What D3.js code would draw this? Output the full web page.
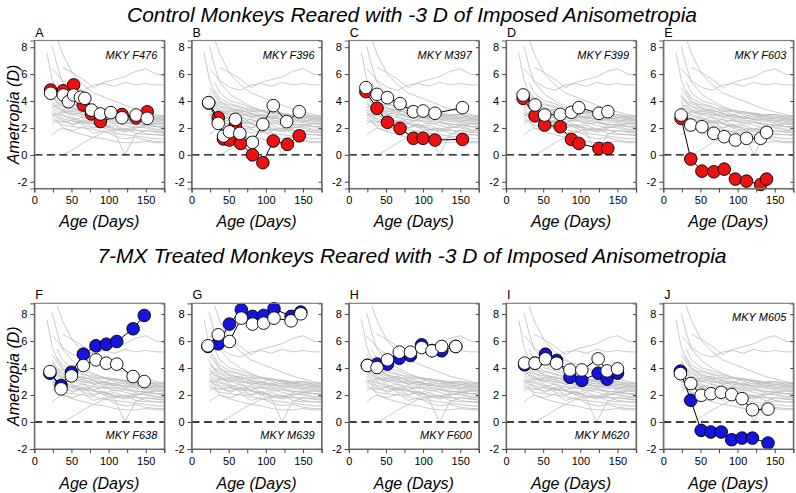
<!DOCTYPE html>
<html><head><meta charset="utf-8">
<script src="https://cdn.jsdelivr.net/npm/d3@7"></script>
<style>
body{margin:0;background:#fff}
svg{display:block}
text{font-family:"Liberation Sans",Arial,sans-serif}
</style>
</head><body>
<svg id="c" width="796" height="493"></svg>
<script>
// ---------------- DATA ----------------
const rowTitles = ["Control Monkeys Reared with -3 D of Imposed Anisometropia",
                   "7-MX Treated Monkeys Reared with -3 D of Imposed Anisometropia"];
const panelLetters = ["A","B","C","D","E","F","G","H","I","J"];
const monkeyNames = ["MKY F476","MKY F396","MKY M397","MKY F399","MKY F603",
                     "MKY F638","MKY M639","MKY F600","MKY M620","MKY M605"];
const yTicks = [-2, 0, 2, 4, 6, 8];
const xTicks = [0, 25, 50, 75, 100, 125, 150, 175];
const xTickLabels = [0, 50, 100, 150];

// treated (filled) eye: ages and refractions, one list per panel
const treatedAges = [
  [22, 39, 53, 66, 77, 89, 118, 137, 152],
  [23, 36, 43, 51, 59, 66, 82, 96, 110, 129, 145],
  [23, 38, 52, 69, 87, 100, 116, 153],
  [23, 39, 52, 73, 88, 98, 125, 137],
  [24, 37, 52, 68, 82, 97, 112, 131, 139],
  [21, 36, 50, 66, 83, 97, 111, 133, 148],
  [22, 36, 51, 67, 82, 97, 111, 134, 147],
  [25, 38, 52, 68, 83, 98, 112, 125, 144],
  [25, 39, 53, 68, 86, 102, 124, 136, 150],
  [23, 37, 51, 64, 78, 92, 106, 120, 141]
];
const treatedValues = [
  [4.82, 4.77, 5.2, 3.7, 3.04, 2.47, 3.0, 2.75, 3.2],
  [3.85, 2.76, 1.18, 1.1, 2.22, 0.85, 0.0, -0.58, 1.03, 0.78, 1.42],
  [4.7, 3.46, 2.42, 1.97, 1.23, 1.23, 1.1, 1.15],
  [4.2, 2.91, 2.22, 2.09, 1.15, 0.85, 0.48, 0.48],
  [2.71, -0.31, -1.21, -1.26, -1.06, -1.8, -1.95, -2.2, -1.8],
  [3.62, 2.7, 3.69, 5.03, 5.65, 5.77, 5.97, 6.91, 7.9],
  [5.6, 5.8, 7.26, 8.32, 7.83, 7.9, 8.4, 7.83, 8.15],
  [4.2, 4.29, 4.29, 4.73, 4.93, 5.72, 5.3, 5.28, 5.6],
  [4.24, 4.36, 5.03, 4.56, 3.32, 3.08, 3.62, 3.18, 3.62],
  [3.77, 1.61, -0.62, -0.74, -0.74, -1.31, -1.19, -1.19, -1.56]
];
// fellow (open) eye
const fellowAges = [
  [22, 39, 46, 53, 62, 68, 77, 89, 103, 118, 137, 152],
  [23, 36, 43, 51, 59, 65, 82, 96, 110, 128, 145],
  [23, 38, 52, 69, 87, 100, 116, 153],
  [23, 39, 52, 73, 88, 98, 125, 137],
  [24, 37, 52, 68, 82, 97, 112, 131, 139],
  [21, 36, 50, 66, 83, 97, 111, 133, 148],
  [22, 36, 51, 67, 82, 97, 111, 134, 147],
  [25, 38, 52, 68, 83, 98, 112, 125, 144],
  [25, 39, 53, 68, 86, 102, 124, 136, 150],
  [23, 37, 51, 64, 78, 92, 106, 120, 141]
];
const fellowValues = [
  [4.58, 4.45, 3.95, 4.45, 4.28, 4.2, 3.33, 3.04, 3.14, 2.76, 2.96, 2.72],
  [3.88, 2.34, 1.4, 1.72, 2.64, 1.6, 0.93, 2.27, 3.66, 2.47, 3.21],
  [5.0, 4.5, 4.25, 3.81, 3.21, 3.26, 3.09, 3.51],
  [4.45, 3.71, 2.96, 3.01, 3.16, 3.51, 3.09, 3.21],
  [2.96, 2.22, 2.09, 1.6, 1.35, 1.1, 1.23, 1.23, 1.67],
  [3.74, 2.46, 3.42, 4.19, 4.61, 4.36, 4.29, 3.37, 3.0],
  [5.65, 6.47, 5.97, 7.7, 7.26, 7.33, 7.7, 7.5, 8.02],
  [4.19, 4.04, 4.61, 5.18, 5.18, 5.52, 5.28, 5.6, 5.6],
  [4.36, 4.36, 4.68, 4.36, 3.86, 3.86, 4.68, 3.79, 3.94],
  [3.59, 2.85, 1.98, 2.1, 2.2, 2.03, 1.73, 0.91, 0.96]
];

// normal monkeys (gray background lines), same in every panel
const normAges = [17, 24, 31, 38, 52, 66, 80, 94, 108, 122, 136, 150, 164, 178];
const normValues = [
  [7.6, 5.6, 4.6, 4.0, 3.5, 3.3, 3.1, 2.9, 2.8, 2.6, 2.5, 2.4, 2.3, 2.2],
  [null, 8.1, 6.6, 5.4, 4.5, 4.0, 3.6, 3.3, 3.2, 3.0, 2.9, 2.8, 2.7, 2.6],
  [null, null, 8.6, 7.5, 6.0, 5.2, 4.6, 4.3, 4.0, 3.7, 3.4, 3.2, 3.0, 2.8],
  [null, null, null, 6.5, 6.1, 5.6, 5.0, 5.4, 5.6, 5.8, 6.2, 6.4, 6.0, 5.9],
  [null, 6.4, 6.0, 5.5, 5.0, 4.8, 5.2, 5.3, 5.1, 5.4, 5.2, 5.3, 5.2, 5.2],
  [null, null, null, 0.0, 0.4, 0.9, 1.3, 1.7, 1.9, 1.8, 2.0, 2.2, 2.3, 2.4],
  [null, 3.6, 3.2, 3.0, 2.7, 2.5, 2.3, 2.0, 1.7, 0.0, 1.5, 1.8, 1.7, 1.6],
  [null, 1.5, 1.8, 2.0, 1.7, 1.5, 1.3, 1.2, 1.0, 0.9, 0.9, 1.0, 0.9, 0.9],
  [null, 3.8, 3.5, 3.3, 3.0, 2.8, 2.6, 2.5, 2.5, 2.4, 2.3, 2.2, 2.1, 2.1],
  [null, 4.2, 3.9, 3.6, 3.4, 3.1, 2.9, 2.8, 2.7, 2.7, 2.6, 2.5, 2.4, 2.3],
  [null, 3.0, 2.8, 2.7, 2.5, 2.4, 2.3, 2.2, 2.0, 1.9, 1.8, 1.8, 1.7, 1.7],
  [null, 2.6, 2.4, 2.2, 2.1, 2.0, 1.9, 1.7, 1.6, 1.5, 1.4, 1.3, 1.2, 1.2],
  [null, 5.0, 4.4, 3.9, 3.7, 3.5, 3.4, 3.2, 3.1, 3.0, 2.9, 2.9, 2.8, 2.8],
  [null, 4.6, 3.8, 3.4, 3.1, 3.0, 2.8, 2.6, 2.6, 2.5, 2.3, 2.2, 2.1, 2.0],
  [null, 2.9, 3.1, 2.6, 2.2, 2.5, 2.0, 2.2, 1.8, 2.0, 1.6, 1.5, 1.5, 1.4],
  [null, 3.4, 3.0, 2.9, 2.6, 2.8, 2.4, 2.6, 2.3, 2.4, 2.2, 2.3, 2.1, 2.1],
  [null, null, 4.8, 4.2, 3.8, 3.6, 3.2, 3.3, 3.0, 2.8, 2.9, 2.6, 2.5, 2.4],
  [null, 3.2, 2.9, 3.3, 2.8, 2.3, 2.7, 2.1, 2.4, 2.2, 2.0, 2.1, 1.9, 1.9],
  [null, 4.0, 3.4, 3.1, 3.3, 2.9, 3.1, 2.7, 2.9, 2.6, 2.8, 2.5, 2.6, 2.5],
  [null, 2.3, 2.6, 2.0, 1.8, 2.1, 1.6, 1.8, 1.4, 1.2, 1.3, 1.1, 1.0, 1.0],
  [null, 3.5, 3.7, 3.2, 3.0, 3.2, 2.8, 3.0, 2.7, 2.9, 2.6, 2.8, 2.7, 2.7],
  [null, null, 5.4, 4.6, 4.0, 3.8, 3.5, 3.3, 3.2, 3.1, 3.0, 3.0, 2.9, 2.9],
  [null, 2.8, 2.5, 2.4, 2.6, 2.2, 2.0, 2.3, 1.9, 1.7, 1.9, 1.6, 1.5, 1.5],
  [null, null, 3.9, 3.6, 3.2, 3.4, 3.0, 2.9, 3.2, 3.0, 2.7, 2.7, 2.6, 2.6],
  [null, 4.4, 4.0, 3.8, 3.5, 3.2, 3.3, 3.0, 2.8, 3.1, 2.9, 3.0, 2.8, 2.9],
  [null, 3.1, 2.7, 2.5, 2.3, 2.6, 2.4, 2.0, 2.2, 1.9, 2.1, 2.0, 1.8, 1.8]
];

// ---------------- DRAW ----------------
const svg = d3.select("#c");
const W = 130;
const rows = [
  {top: 40.5, bottom: 188.5, domain: [-2.5, 8.5], fill: "#ee1111", titleY: 22, ageY: 227},
  {top: 303.3, bottom: 449, domain: [-2, 8.8], fill: "#1414dc", titleY: 263, ageY: 489}
];
const font = '"Liberation Sans",Arial,sans-serif';

rows.forEach((r, ri) => {
  svg.append("text").attr("x", 412).attr("y", r.titleY)
    .attr("text-anchor", "middle").attr("font-size", 21).attr("font-style", "italic")
    .text(rowTitles[ri]);
  svg.append("text")
    .attr("transform", `translate(19,${(r.top + r.bottom) / 2}) rotate(-90)`)
    .attr("text-anchor", "middle").attr("font-size", 16).attr("font-style", "italic")
    .text("Ametropia (D)");
});

for (let p = 0; p < 10; p++) {
  const ri = p < 5 ? 0 : 1;
  const col = p % 5;
  const r = rows[ri];
  const left = 34.3 + col * 157.25;
  const H = r.bottom - r.top;
  const x = d3.scaleLinear().domain([0, 175]).range([0, W]);
  const y = d3.scaleLinear().domain(r.domain).range([H, 0]);
  const g = svg.append("g").attr("transform", `translate(${left},${r.top})`);

  const clipId = "clip" + p;
  g.append("clipPath").attr("id", clipId).append("rect")
    .attr("width", W).attr("height", H);

  const line = d3.line().defined(d => d[1] != null).x(d => x(d[0])).y(d => y(d[1]));
  const gn = g.append("g").attr("clip-path", `url(#${clipId})`);
  normValues.forEach(vals => {
    gn.append("path").datum(normAges.map((a, i) => [a, vals[i]]))
      .attr("d", line).attr("fill", "none").attr("stroke", "#bdbdbd").attr("stroke-width", 0.8);
  });

  g.append("line").attr("x1", 0).attr("x2", W).attr("y1", y(0)).attr("y2", y(0))
    .attr("stroke", "#000").attr("stroke-width", 1.3).attr("stroke-dasharray", "8,4.5");

  const series = [
    {ages: treatedAges[p], vals: treatedValues[p], fill: r.fill},
    {ages: fellowAges[p], vals: fellowValues[p], fill: "#fff"}
  ];
  series.forEach(s => {
    const pts = s.ages.map((a, i) => [a, s.vals[i]]);
    g.append("path").datum(pts).attr("d", line)
      .attr("fill", "none").attr("stroke", "#000").attr("stroke-width", 1);
    g.selectAll(null).data(pts).enter().append("circle")
      .attr("cx", d => x(d[0])).attr("cy", d => y(d[1])).attr("r", 6.3)
      .attr("fill", s.fill).attr("stroke", "#000").attr("stroke-width", 0.9);
  });

  // frame
  g.append("rect").attr("width", W).attr("height", H)
    .attr("fill", "none").attr("stroke", "#808080").attr("stroke-width", 1.2);

  const ax = g.append("g").call(d3.axisLeft(y).tickValues(yTicks).tickSize(4).tickPadding(3)
    .tickFormat(d => String(d)));
  const bx = g.append("g").attr("transform", `translate(0,${H})`)
    .call(d3.axisBottom(x).tickValues(xTicks).tickSize(4).tickPadding(4)
      .tickFormat(d => xTickLabels.includes(d) ? String(d) : ""));
  const rx = g.append("g").attr("transform", `translate(${W},0)`)
    .call(d3.axisRight(y).tickValues(yTicks).tickSize(-3).tickFormat(""));
  [ax, bx, rx].forEach(a => {
    a.select(".domain").attr("stroke", "#666").attr("stroke-width", 1.2);
    a.selectAll(".tick line").attr("stroke", "#444");
    a.selectAll("text").attr("font-size", 11).attr("font-family", font).attr("fill", "#000");
  });

  g.append("text").attr("x", 1).attr("y", -4).attr("font-size", 12.5)
    .text(panelLetters[p]);

  let ly;
  if (ri === 0 || p === 9) ly = 18; else ly = H - 10;
  g.append("text").attr("x", W - 7).attr("y", ly).attr("text-anchor", "end")
    .attr("font-size", 11).attr("font-style", "italic").text(monkeyNames[p]);

  svg.append("text").attr("x", left + W / 2).attr("y", r.ageY)
    .attr("text-anchor", "middle").attr("font-size", 16).attr("font-style", "italic")
    .text("Age (Days)");
}
</script>
</body></html>
